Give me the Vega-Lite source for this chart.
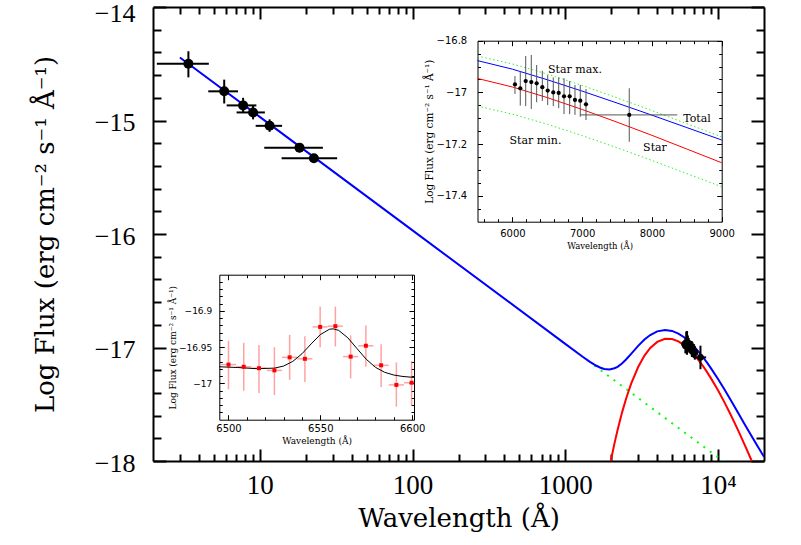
{
"$schema": "https://vega.github.io/schema/vega-lite/v6.json",
"width": 611, "height": 454,
"autosize": {"type": "none"},
"padding": {"left": 153, "top": 7, "right": 37, "bottom": 84},
"background": "white",
"config": {"view": {"stroke": null}, "axis": {"grid": false, "labelFlush": false, "labelOverlap": false, "domainColor": "black", "tickColor": "black", "labelColor": "black", "titleColor": "black", "titleFontWeight": "normal"}},
"datasets": {
"total": [{"lam":3,"f":-14.445},{"lam":10,"f":-14.968},{"lam":100,"f":-15.968},{"lam":1000,"f":-16.968},{"lam":1300,"f":-17.081},{"lam":1450,"f":-17.126},{"lam":1600,"f":-17.161},{"lam":1700,"f":-17.178},{"lam":1800,"f":-17.189},{"lam":1950,"f":-17.194},{"lam":2100,"f":-17.183},{"lam":2200,"f":-17.170},{"lam":2350,"f":-17.141},{"lam":2500,"f":-17.106},{"lam":2700,"f":-17.056},{"lam":3000,"f":-16.986},{"lam":3300,"f":-16.930},{"lam":3600,"f":-16.890},{"lam":4000,"f":-16.858},{"lam":4500,"f":-16.845},{"lam":5000,"f":-16.854},{"lam":5500,"f":-16.877},{"lam":6000,"f":-16.910},{"lam":6500,"f":-16.951},{"lam":7000,"f":-16.995},{"lam":7500,"f":-17.041},{"lam":8000,"f":-17.088},{"lam":8500,"f":-17.136},{"lam":9000,"f":-17.184},{"lam":10000,"f":-17.278},{"lam":11000,"f":-17.368},{"lam":12000,"f":-17.454},{"lam":13500,"f":-17.572},{"lam":15000,"f":-17.680},{"lam":16500,"f":-17.775},{"lam":18000,"f":-17.862},{"lam":20000,"f":-17.963}],
"star": [{"lam":1950,"f":-18.055},{"lam":2000,"f":-17.980},{"lam":2100,"f":-17.845},{"lam":2200,"f":-17.727},{"lam":2350,"f":-17.576},{"lam":2500,"f":-17.452},{"lam":2700,"f":-17.319},{"lam":3000,"f":-17.172},{"lam":3300,"f":-17.071},{"lam":3600,"f":-17.004},{"lam":4000,"f":-16.951},{"lam":4500,"f":-16.924},{"lam":5000,"f":-16.926},{"lam":5500,"f":-16.946},{"lam":6000,"f":-16.979},{"lam":6500,"f":-17.020},{"lam":7000,"f":-17.066},{"lam":7500,"f":-17.115},{"lam":8000,"f":-17.166},{"lam":8500,"f":-17.219},{"lam":9000,"f":-17.272},{"lam":10000,"f":-17.377},{"lam":11000,"f":-17.481},{"lam":12000,"f":-17.582},{"lam":13500,"f":-17.726},{"lam":15000,"f":-17.862},{"lam":16500,"f":-17.989},{"lam":18000,"f":-18.109}],
"pl": [{"lam":1550,"f":-17.158},{"lam":12000,"f":-18.047}],
"uv": [{"lam":3.41,"lo":2.12,"hi":4.64,"f":-14.50,"flo":-14.62,"fhi":-14.39},{"lam":5.85,"lo":4.6,"hi":7.2,"f":-14.743,"flo":-14.85,"fhi":-14.64},{"lam":7.78,"lo":6.07,"hi":9.5,"f":-14.867,"flo":-14.93,"fhi":-14.80},{"lam":9.04,"lo":7.05,"hi":10.8,"f":-14.929,"flo":-14.99,"fhi":-14.87},{"lam":11.6,"lo":9.4,"hi":14.0,"f":-15.047,"flo":-15.10,"fhi":-14.99},{"lam":18.2,"lo":10.7,"hi":25.9,"f":-15.239,"flo":-15.28,"fhi":-15.20},{"lam":22.6,"lo":13.9,"hi":32.1,"f":-15.333,"flo":-15.37,"fhi":-15.30}],
"opt": [{"lam":6037,"f":-16.969,"fhi":-16.937,"flo":-17.006},{"lam":6113,"f":-16.984,"fhi":-16.920,"flo":-17.051},{"lam":6191,"f":-16.956,"fhi":-16.859,"flo":-17.053},{"lam":6271,"f":-16.960,"fhi":-16.855,"flo":-17.064},{"lam":6348,"f":-16.965,"fhi":-16.894,"flo":-17.038},{"lam":6429,"f":-16.980,"fhi":-16.916,"flo":-17.033},{"lam":6506,"f":-16.993,"fhi":-16.933,"flo":-17.049},{"lam":6586,"f":-17.000,"fhi":-16.942,"flo":-17.053},{"lam":6664,"f":-17.002,"fhi":-16.942,"flo":-17.061},{"lam":6740,"f":-17.015,"fhi":-16.945,"flo":-17.084},{"lam":6821,"f":-17.015,"fhi":-16.956,"flo":-17.084},{"lam":6897,"f":-17.029,"fhi":-16.971,"flo":-17.087},{"lam":6973,"f":-17.032,"fhi":-16.971,"flo":-17.094},{"lam":7055,"f":-17.046,"fhi":-16.987,"flo":-17.107},{"lam":7675,"f":-17.087,"fhi":-16.984,"flo":-17.191}],
"iband": [{"lam":7675,"lo":6970,"hi":8363,"f":-17.087}],
"ins": [{"lam":5500,"total":-16.877,"star":-16.946,"smax":-16.859,"smin":-17.053},{"lam":6000,"total":-16.910,"star":-16.979,"smax":-16.890,"smin":-17.084},{"lam":6500,"total":-16.951,"star":-17.020,"smax":-16.929,"smin":-17.123},{"lam":7000,"total":-16.995,"star":-17.066,"smax":-16.973,"smin":-17.167},{"lam":7500,"total":-17.041,"star":-17.115,"smax":-17.021,"smin":-17.214},{"lam":8000,"total":-17.088,"star":-17.166,"smax":-17.070,"smin":-17.263},{"lam":8500,"total":-17.136,"star":-17.219,"smax":-17.121,"smin":-17.314},{"lam":9000,"total":-17.184,"star":-17.272,"smax":-17.172,"smin":-17.365}],
"ann": [{"t":"Star max.","lam":6897,"f":-16.913},{"t":"Total","lam":8646,"f":-17.103},{"t":"Star","lam":8044,"f":-17.215},{"t":"Star min.","lam":6331,"f":-17.188}],
"ha": [{"lam":6500.0,"lo":6495.9,"hi":6504.1,"f":-16.974,"fhi":-16.941,"flo":-17.008},{"lam":6508.3,"lo":6504.2,"hi":6512.4,"f":-16.977,"fhi":-16.944,"flo":-17.010},{"lam":6516.6,"lo":6512.5,"hi":6520.7,"f":-16.979,"fhi":-16.947,"flo":-17.013},{"lam":6525.0,"lo":6520.9,"hi":6529.1,"f":-16.982,"fhi":-16.950,"flo":-17.016},{"lam":6533.3,"lo":6529.2,"hi":6537.4,"f":-16.964,"fhi":-16.933,"flo":-16.995},{"lam":6541.6,"lo":6537.5,"hi":6545.7,"f":-16.966,"fhi":-16.935,"flo":-16.998},{"lam":6549.9,"lo":6545.8,"hi":6554.0,"f":-16.922,"fhi":-16.894,"flo":-16.950},{"lam":6558.2,"lo":6554.1,"hi":6562.3,"f":-16.921,"fhi":-16.894,"flo":-16.949},{"lam":6566.5,"lo":6562.4,"hi":6570.6,"f":-16.963,"fhi":-16.934,"flo":-16.993},{"lam":6574.8,"lo":6570.7,"hi":6578.9,"f":-16.948,"fhi":-16.920,"flo":-16.977},{"lam":6583.1,"lo":6579.0,"hi":6587.2,"f":-16.975,"fhi":-16.946,"flo":-17.005},{"lam":6591.4,"lo":6587.3,"hi":6595.5,"f":-17.002,"fhi":-16.971,"flo":-17.032},{"lam":6599.7,"lo":6595.6,"hi":6601.0,"f":-16.999,"fhi":-16.969,"flo":-17.031}],
"gauss": [{"lam":6495,"f":-16.977},{"lam":6505,"f":-16.978},{"lam":6515,"f":-16.9796},{"lam":6525,"f":-16.9789},{"lam":6530,"f":-16.976},{"lam":6535,"f":-16.9696},{"lam":6540,"f":-16.9591},{"lam":6545,"f":-16.9455},{"lam":6550,"f":-16.9326},{"lam":6555,"f":-16.9252},{"lam":6557,"f":-16.9247},{"lam":6560,"f":-16.9268},{"lam":6565,"f":-16.9371},{"lam":6570,"f":-16.952},{"lam":6575,"f":-16.9666},{"lam":6580,"f":-16.9777},{"lam":6585,"f":-16.9846},{"lam":6590,"f":-16.9884},{"lam":6595,"f":-16.9904},{"lam":6601,"f":-16.9917}]
},
"layer": [
{
"resolve": {"axis": {"x": "independent", "y": "independent"}},
"layer": [
{"data": {"name": "pl"}, "mark": {"type": "line", "color": "#00ff00", "strokeWidth": 2, "strokeDash": [2, 6], "clip": true},
 "encoding": {"x": {"field": "lam", "type": "quantitative", "scale": {"type": "log", "domain": [2, 20000], "nice": false}, "axis": {"orient": "top", "values": [10, 100, 1000, 10000], "tickSize": -12, "tickWidth": 2, "domainWidth": 2, "labels": false, "title": null}},
  "y": {"field": "f", "type": "quantitative", "scale": {"domain": [-18, -14], "nice": false, "zero": false}, "axis": {"orient": "right", "values": [-18, -17, -16, -15, -14], "tickSize": -13, "tickWidth": 2, "domainWidth": 2, "labels": false, "title": null}}}},
{"data": {"name": "star"}, "mark": {"type": "line", "color": "#ff0000", "strokeWidth": 2, "clip": true},
 "encoding": {"x": {"field": "lam", "type": "quantitative", "scale": {"type": "log", "domain": [2, 20000], "nice": false}, "axis": {"orient": "top", "values": [3,4,5,6,7,8,9,20,30,40,50,60,70,80,90,200,300,400,500,600,700,800,900,2000,3000,4000,5000,6000,7000,8000,9000], "tickSize": -7, "tickWidth": 2, "domain": false, "labels": false, "title": null}},
  "y": {"field": "f", "type": "quantitative", "scale": {"domain": [-18, -14], "nice": false, "zero": false}, "axis": {"orient": "right", "values": [-17.8,-17.6,-17.4,-17.2,-16.8,-16.6,-16.4,-16.2,-15.8,-15.6,-15.4,-15.2,-14.8,-14.6,-14.4,-14.2], "tickSize": -8, "tickWidth": 2, "domain": false, "labels": false, "title": null}}}},
{"data": {"name": "total"}, "mark": {"type": "line", "color": "#0000ff", "strokeWidth": 2, "clip": true},
 "encoding": {"x": {"field": "lam", "type": "quantitative", "scale": {"type": "log", "domain": [2, 20000], "nice": false}, "axis": {"orient": "bottom", "values": [10, 100, 1000, 10000], "tickSize": -12, "tickWidth": 2, "domainWidth": 2, "labelFont": "Liberation Serif", "labelFontSize": 27, "labelPadding": 23, "labelExpr": "datum.value >= 10000 ? '10⁴' : format(datum.value, 'd')", "title": "Wavelength (Å)", "titleFont": "DejaVu Serif", "titleFontSize": 26, "titlePadding": 7}},
  "y": {"field": "f", "type": "quantitative", "scale": {"domain": [-18, -14], "nice": false, "zero": false}, "axis": {"orient": "left", "values": [-18, -17, -16, -15, -14], "tickSize": -13, "tickWidth": 2, "domainWidth": 2, "labelFont": "Liberation Serif", "labelFontSize": 26, "labelPadding": 31, "labelOffset": {"condition": {"test": "datum.value == -14", "value": 6}, "value": 2}, "format": "~g", "title": "Log Flux (erg cm⁻² s⁻¹ Å⁻¹)", "titleFont": "DejaVu Serif", "titleFontSize": 26, "titlePadding": 36}}}},
{"data": {"name": "uv"}, "mark": {"type": "rule", "color": "black", "strokeWidth": 2},
 "encoding": {"x": {"field": "lo", "type": "quantitative", "scale": {"type": "log", "domain": [2, 20000], "nice": false}, "axis": {"orient": "bottom", "values": [3,4,5,6,7,8,9,20,30,40,50,60,70,80,90,200,300,400,500,600,700,800,900,2000,3000,4000,5000,6000,7000,8000,9000], "tickSize": -7, "tickWidth": 2, "domain": false, "labels": false, "title": null}},
  "x2": {"field": "hi"},
  "y": {"field": "f", "type": "quantitative", "scale": {"domain": [-18, -14], "nice": false, "zero": false}, "axis": {"orient": "left", "values": [-17.8,-17.6,-17.4,-17.2,-16.8,-16.6,-16.4,-16.2,-15.8,-15.6,-15.4,-15.2,-14.8,-14.6,-14.4,-14.2], "tickSize": -8, "tickWidth": 2, "domain": false, "labels": false, "title": null}}}},
{"data": {"name": "uv"}, "mark": {"type": "rule", "color": "black", "strokeWidth": 2},
 "encoding": {"x": {"field": "lam", "type": "quantitative", "scale": {"type": "log", "domain": [2, 20000], "nice": false}, "axis": null},
  "y": {"field": "flo", "type": "quantitative", "scale": {"domain": [-18, -14], "nice": false, "zero": false}, "axis": null}, "y2": {"field": "fhi"}}},
{"data": {"name": "uv"}, "mark": {"type": "point", "shape": "circle", "filled": true, "color": "black", "opacity": 1, "size": 100},
 "encoding": {"x": {"field": "lam", "type": "quantitative", "scale": {"type": "log", "domain": [2, 20000], "nice": false}, "axis": null},
  "y": {"field": "f", "type": "quantitative", "scale": {"domain": [-18, -14], "nice": false, "zero": false}, "axis": null}}},
{"data": {"name": "opt"}, "mark": {"type": "rule", "color": "black", "strokeWidth": 2},
 "encoding": {"x": {"field": "lam", "type": "quantitative", "scale": {"type": "log", "domain": [2, 20000], "nice": false}, "axis": null},
  "y": {"field": "flo", "type": "quantitative", "scale": {"domain": [-18, -14], "nice": false, "zero": false}, "axis": null}, "y2": {"field": "fhi"}}},
{"data": {"name": "iband"}, "mark": {"type": "rule", "color": "black", "strokeWidth": 2},
 "encoding": {"x": {"field": "lo", "type": "quantitative", "scale": {"type": "log", "domain": [2, 20000], "nice": false}, "axis": null}, "x2": {"field": "hi"},
  "y": {"field": "f", "type": "quantitative", "scale": {"domain": [-18, -14], "nice": false, "zero": false}, "axis": null}}},
{"data": {"name": "opt"}, "mark": {"type": "point", "shape": "circle", "filled": true, "color": "black", "opacity": 1, "size": 45},
 "encoding": {"x": {"field": "lam", "type": "quantitative", "scale": {"type": "log", "domain": [2, 20000], "nice": false}, "axis": null},
  "y": {"field": "f", "type": "quantitative", "scale": {"domain": [-18, -14], "nice": false, "zero": false}, "axis": null}}}
]
},
{
"resolve": {"axis": {"x": "independent", "y": "independent"}},
"layer": [
{"data": {"name": "ins"}, "mark": {"type": "line", "color": "#33ee33", "strokeWidth": 1, "strokeDash": [1.5, 2.5]},
 "encoding": {"x": {"field": "lam", "type": "quantitative", "scale": {"domain": [5500, 9000], "range": [324.5, 568.7], "nice": false, "zero": false}, "axis": {"orient": "top", "offset": -33.7, "values": [6000, 7000, 8000, 9000], "tickSize": -5, "tickWidth": 1, "domainWidth": 1, "labels": false, "title": null}},
  "y": {"field": "smax", "type": "quantitative", "scale": {"domain": [-17.5, -16.8], "range": [214.7, 33.7], "nice": false, "zero": false}, "axis": {"orient": "right", "offset": -42.3, "values": [-17.4, -17.2, -17, -16.8], "tickSize": -5, "tickWidth": 1, "domainWidth": 1, "labels": false, "title": null}}}},
{"data": {"name": "ins"}, "mark": {"type": "line", "color": "#33ee33", "strokeWidth": 1, "strokeDash": [1.5, 2.5]},
 "encoding": {"x": {"field": "lam", "type": "quantitative", "scale": {"domain": [5500, 9000], "range": [324.5, 568.7], "nice": false, "zero": false}, "axis": {"orient": "top", "offset": -33.7, "values": [5600,5800,6200,6400,6600,6800,7200,7400,7600,7800,8200,8400,8600,8800], "tickSize": -3, "tickWidth": 1, "domain": false, "labels": false, "title": null}},
  "y": {"field": "smin", "type": "quantitative", "scale": {"domain": [-17.5, -16.8], "range": [214.7, 33.7], "nice": false, "zero": false}, "axis": {"orient": "right", "offset": -42.3, "values": [-17.45,-17.35,-17.3,-17.25,-17.15,-17.1,-17.05,-16.95,-16.9,-16.85], "tickSize": -3, "tickWidth": 1, "domain": false, "labels": false, "title": null}}}},
{"data": {"name": "ins"}, "mark": {"type": "line", "color": "#ff0000", "strokeWidth": 1},
 "encoding": {"x": {"field": "lam", "type": "quantitative", "scale": {"domain": [5500, 9000], "range": [324.5, 568.7], "nice": false, "zero": false}, "axis": {"orient": "bottom", "offset": -239.3, "values": [5600,5800,6200,6400,6600,6800,7200,7400,7600,7800,8200,8400,8600,8800], "tickSize": -3, "tickWidth": 1, "domain": false, "labels": false, "title": null}},
  "y": {"field": "star", "type": "quantitative", "scale": {"domain": [-17.5, -16.8], "range": [214.7, 33.7], "nice": false, "zero": false}, "axis": {"orient": "left", "offset": -324.5, "values": [-17.45,-17.35,-17.3,-17.25,-17.15,-17.1,-17.05,-16.95,-16.9,-16.85], "tickSize": -3, "tickWidth": 1, "domain": false, "labels": false, "title": null}}}},
{"data": {"name": "ins"}, "mark": {"type": "line", "color": "#0000ff", "strokeWidth": 1},
 "encoding": {"x": {"field": "lam", "type": "quantitative", "scale": {"domain": [5500, 9000], "range": [324.5, 568.7], "nice": false, "zero": false}, "axis": {"orient": "bottom", "offset": -239.3, "values": [6000, 7000, 8000, 9000], "tickSize": -5, "tickWidth": 1, "domainWidth": 1, "labelFont": "DejaVu Sans", "labelFontSize": 10, "labelPadding": 12, "format": "d", "title": "Wavelength (Å)", "titleFont": "DejaVu Serif", "titleFontSize": 8.5, "titlePadding": 3}},
  "y": {"field": "total", "type": "quantitative", "scale": {"domain": [-17.5, -16.8], "range": [214.7, 33.7], "nice": false, "zero": false}, "axis": {"orient": "left", "offset": -324.5, "values": [-17.4, -17.2, -17, -16.8], "tickSize": -5, "tickWidth": 1, "domainWidth": 1, "labelFont": "DejaVu Sans", "labelFontSize": 10, "labelPadding": 15.8, "format": "~g", "title": "Log Flux (erg cm⁻² s⁻¹ Å⁻¹)", "titleFont": "DejaVu Serif", "titleFontSize": 10.5, "titlePadding": 2}}}},
{"data": {"name": "opt"}, "mark": {"type": "rule", "color": "#555555", "strokeWidth": 1},
 "encoding": {"x": {"field": "lam", "type": "quantitative", "scale": {"domain": [5500, 9000], "range": [324.5, 568.7], "nice": false, "zero": false}, "axis": null},
  "y": {"field": "flo", "type": "quantitative", "scale": {"domain": [-17.5, -16.8], "range": [214.7, 33.7], "nice": false, "zero": false}, "axis": null}, "y2": {"field": "fhi"}}},
{"data": {"name": "iband"}, "mark": {"type": "rule", "color": "#555555", "strokeWidth": 1},
 "encoding": {"x": {"field": "lo", "type": "quantitative", "scale": {"domain": [5500, 9000], "range": [324.5, 568.7], "nice": false, "zero": false}, "axis": null}, "x2": {"field": "hi"},
  "y": {"field": "f", "type": "quantitative", "scale": {"domain": [-17.5, -16.8], "range": [214.7, 33.7], "nice": false, "zero": false}, "axis": null}}},
{"data": {"name": "opt"}, "mark": {"type": "point", "shape": "circle", "filled": true, "color": "black", "opacity": 1, "size": 18},
 "encoding": {"x": {"field": "lam", "type": "quantitative", "scale": {"domain": [5500, 9000], "range": [324.5, 568.7], "nice": false, "zero": false}, "axis": null},
  "y": {"field": "f", "type": "quantitative", "scale": {"domain": [-17.5, -16.8], "range": [214.7, 33.7], "nice": false, "zero": false}, "axis": null}}},
{"data": {"name": "ann"}, "mark": {"type": "text", "font": "DejaVu Serif", "fontSize": 11, "color": "black", "align": "center", "baseline": "middle"},
 "encoding": {"x": {"field": "lam", "type": "quantitative", "scale": {"domain": [5500, 9000], "range": [324.5, 568.7], "nice": false, "zero": false}, "axis": null},
  "y": {"field": "f", "type": "quantitative", "scale": {"domain": [-17.5, -16.8], "range": [214.7, 33.7], "nice": false, "zero": false}, "axis": null},
  "text": {"field": "t"}}}
]
},
{
"resolve": {"axis": {"x": "independent", "y": "independent"}},
"layer": [
{"data": {"name": "ha"}, "mark": {"type": "rule", "color": "#ff5555", "opacity": 0.55, "strokeWidth": 1.5},
 "encoding": {"x": {"field": "lam", "type": "quantitative", "scale": {"domain": [6495, 6601], "range": [66.3, 261], "nice": false, "zero": false}, "axis": {"orient": "bottom", "offset": -41.3, "values": [6510,6520,6530,6540,6560,6570,6580,6590], "tickSize": -3, "tickWidth": 1, "domain": false, "labels": false, "title": null}},
  "y": {"field": "flo", "type": "quantitative", "scale": {"domain": [-17.05, -16.85], "range": [412.7, 267.7], "nice": false, "zero": false}, "axis": {"orient": "left", "offset": -66.3, "values": [-17.04,-17.03,-17.02,-17.01,-16.99,-16.98,-16.97,-16.96,-16.94,-16.93,-16.92,-16.91,-16.89,-16.88,-16.87,-16.86], "tickSize": -3, "tickWidth": 1, "domain": false, "labels": false, "title": null}},
  "y2": {"field": "fhi"}}},
{"data": {"name": "ha"}, "mark": {"type": "rule", "color": "#ff5555", "opacity": 0.55, "strokeWidth": 1.5},
 "encoding": {"x": {"field": "lo", "type": "quantitative", "scale": {"domain": [6495, 6601], "range": [66.3, 261], "nice": false, "zero": false}, "axis": {"orient": "top", "offset": -267.7, "values": [6500, 6550, 6600], "tickSize": -5, "tickWidth": 1, "domainWidth": 1, "labels": false, "title": null}},
  "x2": {"field": "hi"},
  "y": {"field": "f", "type": "quantitative", "scale": {"domain": [-17.05, -16.85], "range": [412.7, 267.7], "nice": false, "zero": false}, "axis": {"orient": "right", "offset": -350, "values": [-17, -16.95, -16.9], "tickSize": -5, "tickWidth": 1, "domainWidth": 1, "labels": false, "title": null}}}},
{"data": {"name": "gauss"}, "mark": {"type": "line", "color": "black", "strokeWidth": 1},
 "encoding": {"x": {"field": "lam", "type": "quantitative", "scale": {"domain": [6495, 6601], "range": [66.3, 261], "nice": false, "zero": false}, "axis": {"orient": "bottom", "offset": -41.3, "values": [6500, 6550, 6600], "tickSize": -5, "tickWidth": 1, "domainWidth": 1, "labelFont": "DejaVu Sans", "labelFontSize": 10, "labelPadding": 9, "format": "d", "title": "Wavelength (Å)", "titleFont": "DejaVu Serif", "titleFontSize": 9, "titlePadding": 3}},
  "y": {"field": "f", "type": "quantitative", "scale": {"domain": [-17.05, -16.85], "range": [412.7, 267.7], "nice": false, "zero": false}, "axis": {"orient": "left", "offset": -66.3, "values": [-17, -16.95, -16.9], "tickSize": -5, "tickWidth": 1, "domainWidth": 1, "labelFont": "DejaVu Sans", "labelFontSize": 9, "labelPadding": 12.6, "format": "~g", "title": "Log Flux (erg cm⁻² s⁻¹ Å⁻¹)", "titleFont": "DejaVu Serif", "titleFontSize": 9, "titlePadding": 1}}}},
{"data": {"name": "ha"}, "mark": {"type": "point", "shape": "square", "filled": true, "color": "#ff0000", "opacity": 1, "size": 16},
 "encoding": {"x": {"field": "lam", "type": "quantitative", "scale": {"domain": [6495, 6601], "range": [66.3, 261], "nice": false, "zero": false}, "axis": {"orient": "top", "offset": -267.7, "values": [6510,6520,6530,6540,6560,6570,6580,6590], "tickSize": -3, "tickWidth": 1, "domain": false, "labels": false, "title": null}},
  "y": {"field": "f", "type": "quantitative", "scale": {"domain": [-17.05, -16.85], "range": [412.7, 267.7], "nice": false, "zero": false}, "axis": {"orient": "right", "offset": -350, "values": [-17.04,-17.03,-17.02,-17.01,-16.99,-16.98,-16.97,-16.96,-16.94,-16.93,-16.92,-16.91,-16.89,-16.88,-16.87,-16.86], "tickSize": -3, "tickWidth": 1, "domain": false, "labels": false, "title": null}}}}
]
}
],
"resolve": {"scale": {"x": "independent", "y": "independent"}, "axis": {"x": "independent", "y": "independent"}}
}
